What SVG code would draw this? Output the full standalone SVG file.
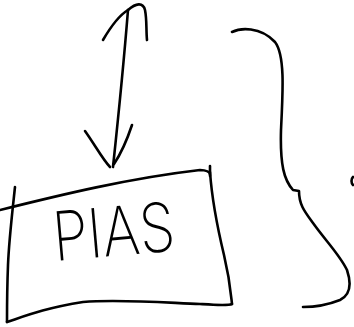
<svg xmlns="http://www.w3.org/2000/svg" width="354" height="327" viewBox="0 0 354 327">
<style>
.s{fill:none;stroke:#000;stroke-width:2.6;stroke-linecap:round;stroke-linejoin:round}
.t{font-family:Inter,"Liberation Sans",sans-serif;font-weight:200;font-size:68px;fill:#000}
</style>
<rect width="354" height="327" fill="#fff"/>
<g id="pias">
<path class="s" d="M0,210 C60,195 130,178 200,170 C206,170 210,172 210,175 M210,166 L210,176"/>
<path class="s" d="M15,187 C12,215 9,240 8,265 C7,290 7,310 7,322"/>
<path class="s" d="M7,322 C25,316 45,308 83,302 C120,299 170,303 200,304 C215,305 228,306 232,304"/>
<path class="s" d="M210,172 C212,200 218,230 224,255 C230,280 231,295 232,304"/>
<text class="t" x="0" y="0" transform="translate(55,261) rotate(-5)" textLength="122" lengthAdjust="spacingAndGlyphs">PIAS</text>
</g>
<g id="connectors">
<path class="s" d="M128,10 C124,60 118,120 113,167"/>
<path class="s" d="M85,131 C95,145 103,160 110,167"/>
<path class="s" d="M132,125 C127,140 120,155 114,164"/>
<path class="s" d="M103,40 C110,28 118,16 128,10"/>
<path class="s" d="M128,10 C136,3 143,2 145,10 C147,20 146,30 147,40"/>
</g>
<g id="brace">
<path class="s" d="M232,32 C240,28 260,26 275,42 C285,55 283,90 281,130 C280,165 284,180 293,190 L299,191 C299,205 305,212 313,223 C325,240 340,255 347,270 C352,285 350,295 340,300 C330,304 315,307 303,307"/>
<path class="s" d="M353,177 C351,179 351,183 353,185"/>
</g>
</svg>
